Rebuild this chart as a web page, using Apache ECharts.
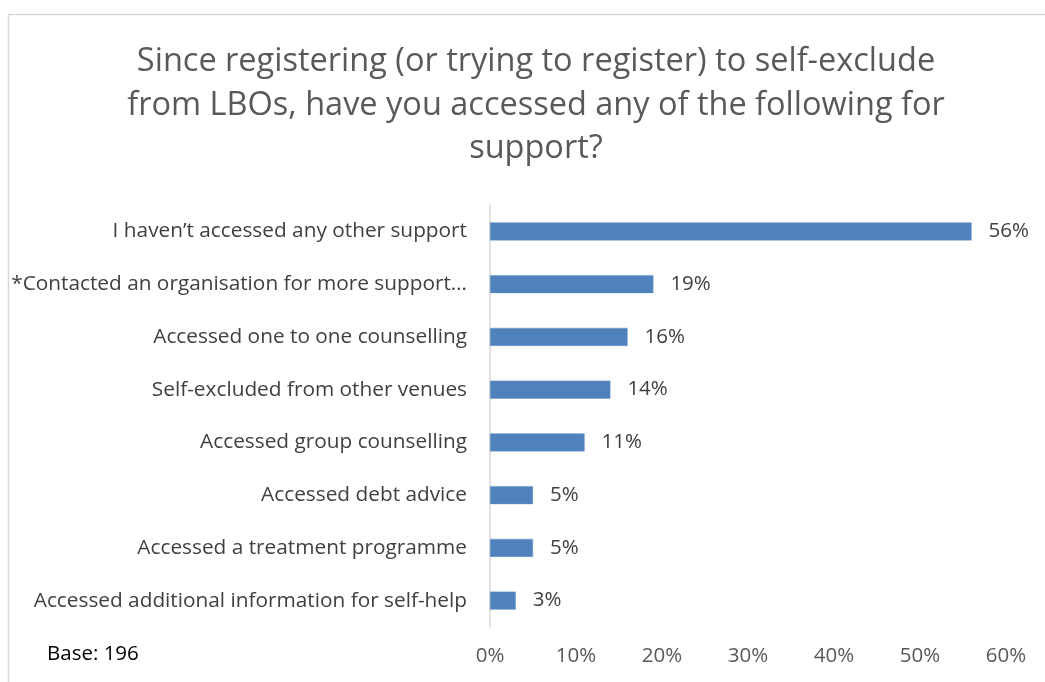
<!DOCTYPE html>
<html>
<head>
<meta charset="utf-8">
<script src="https://cdn.jsdelivr.net/npm/echarts@6/dist/echarts.min.js"></script>
<style>
  html, body { margin: 0; padding: 0; background: #ffffff; }
  #chart { width: 1045px; height: 682px; }
</style>
</head>
<body>
<div id="chart"></div>
<script>
// Support accessed since self-exclusion registration (share of respondents)
const categories = [
  'I haven\u2019t accessed any other support',
  '*Contacted an organisation for more support\u2026',
  'Accessed one to one counselling',
  'Self-excluded from other venues',
  'Accessed group counselling',
  'Accessed debt advice',
  'Accessed a treatment programme',
  'Accessed additional information for self-help'
];
const shares = [56, 19, 16, 14, 11, 5, 5, 3];
const axisTicks = [0, 10, 20, 30, 40, 50, 60];
const titleText = 'Since registering (or trying to register) to self-exclude\nfrom LBOs, have you accessed any of the following for\nsupport?';
const baseNote = 'Base: 196';

const FONT = '"Open Sans"';
const LABEL_SIZE = 20.8;
const chart = echarts.init(document.getElementById('chart'), null, { renderer: 'canvas' });

chart.setOption({
  backgroundColor: '#ffffff',
  animation: false,
  title: {
    text: titleText,
    left: 531,
    top: 35,
    textAlign: 'center',
    textStyle: {
      fontFamily: FONT,
      fontSize: 32.5,
      fontWeight: 'normal',
      color: '#595959',
      lineHeight: 43.5
    }
  },
  graphic: [
    {
      type: 'rect',
      silent: true,
      shape: { x: 8.5, y: 14.5, width: 1060, height: 700 },
      style: { fill: 'none', stroke: '#d9d9d9', lineWidth: 1.5 }
    },
    {
      type: 'text',
      left: 47,
      top: 644,
      style: { text: baseNote, fontFamily: FONT, fontSize: 20.5, fill: '#000000' }
    }
  ],
  grid: { left: 490, right: 39, top: 205, bottom: 55, containLabel: false },
  xAxis: {
    type: 'value',
    min: axisTicks[0],
    max: axisTicks[axisTicks.length - 1],
    interval: axisTicks[1] - axisTicks[0],
    axisLine: { show: false },
    axisTick: { show: false },
    splitLine: { show: false },
    axisLabel: {
      formatter: v => v + '%',
      fontFamily: FONT,
      fontSize: 20.5,
      color: '#595959',
      margin: 19
    }
  },
  yAxis: {
    type: 'category',
    data: categories,
    inverse: true,
    axisLine: { show: true, lineStyle: { color: '#d9d9d9', width: 1.5 } },
    axisTick: { show: false },
    axisLabel: {
      fontFamily: FONT,
      fontSize: LABEL_SIZE,
      color: '#404040',
      margin: 23
    }
  },
  series: [{
    type: 'bar',
    data: shares,
    barWidth: 18,
    itemStyle: { color: '#4f81bd', borderColor: '#6b96c9', borderWidth: 0.5 },
    label: {
      show: true,
      position: 'right',
      distance: 17,
      formatter: p => p.value + '%',
      fontFamily: FONT,
      fontSize: 20.5,
      color: '#404040'
    }
  }]
});
</script>
</body>
</html>
